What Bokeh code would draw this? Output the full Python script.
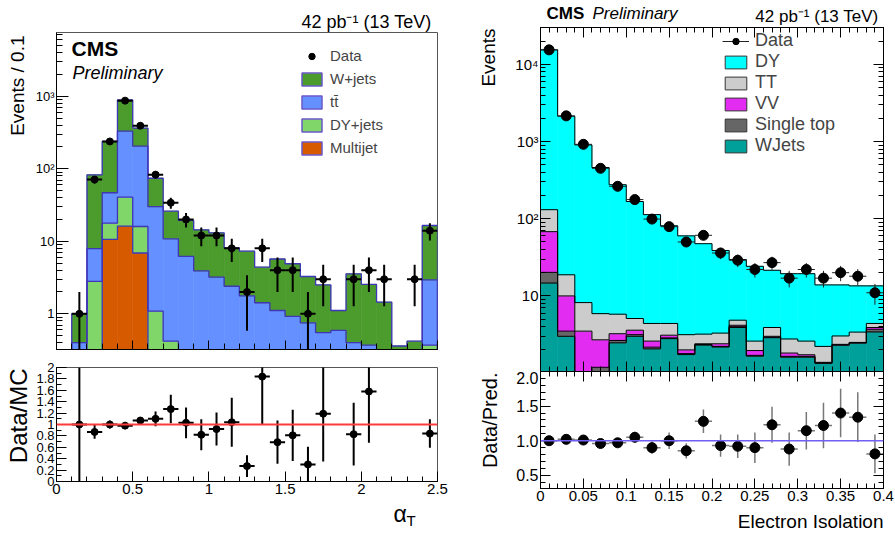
import math
import numpy as np
from bokeh.plotting import figure
from bokeh.layouts import row, column
from bokeh.models import FixedTicker, LinearAxis, LogAxis, Label, Legend, LegendItem, Span
from bokeh.embed import file_html
from bokeh.resources import INLINE

FONT = "Liberation Sans"
NAN = float("nan")

# ---------------- left panel: alpha_T ----------------
at_edges = [0.1, 0.2, 0.3, 0.4, 0.5, 0.6, 0.7, 0.8, 0.9, 1.0, 1.1, 1.2, 1.3,
            1.4, 1.5, 1.6, 1.7, 1.8, 1.9, 2.0, 2.1, 2.2, 2.3, 2.4, 2.5]
at_multijet = [0, 0, 10.6, 16.2, 6.9, 0, 0, 0, 0, 0, 0, 0, 0, 0, 0, 0, 0, 0, 0, 0, 0, 0, 0, 0]
at_dyjets = [0, 2.8, 7.2, 24.4, 9.1, 1.09, 0.42, 0, 0, 0, 0, 0, 0, 0, 0, 0, 0, 0, 0, 0, 0, 0, 0, 0.37]
at_ttbar = [0.4, 5.1, 28.9, 289, 189, 28.9, 10.4, 6.2, 3.9, 3.2, 2.4, 1.77, 1.42, 1.11,
            0.92, 0.75, 0.55, 0.59, 0.40, 0.37, 0.2, 0.1, 0.1, 2.57]
at_wjets = [0.6, 74.7, 191, 560, 159, 44, 15.2, 13.2, 10.5, 9.9, 5.7, 5.53, 2.98, 4.59,
            3.98, 2.52, 1.95, 0.52, 3.16, 2.17, 1.25, 0.26, 0.32, 13.56]
at_data = [1, 71, 238, 870, 392, 83, 34, 20, 12, 12, 8, 2, 8, 4, 4, 1, 3, 0, 3, 4, 3, 0, 3, 14]
at_ratio = [1.0, 0.87, 1.0, 0.98, 1.07, 1.1, 1.27, 1.03, 0.82, 0.92, 1.04, 0.27, 1.84, 0.69,
            0.81, 0.3, 1.19, NAN, 0.83, 1.58, NAN, NAN, NAN, 0.84]
at_ratio_err = [1.0, 0.12, 0.07, 0.035, 0.05, 0.13, 0.25, 0.27, 0.27, 0.29, 0.43, 0.19, 0.83, 0.38,
                0.45, 0.31, 0.84, NAN, 0.55, 0.9, NAN, NAN, NAN, 0.25]
at_labels = ["Data", "W+jets", "tt\u0304", "DY+jets", "Multijet"]
at_xticks = [0, 0.5, 1, 1.5, 2, 2.5]
at_rticks = [0, 0.2, 0.4, 0.6, 0.8, 1, 1.2, 1.4, 1.6, 1.8, 2]

# ---------------- right panel: electron isolation ----------------
iso_edges = [0.0, 0.02, 0.04, 0.06, 0.08, 0.1, 0.12, 0.14, 0.16, 0.18, 0.2, 0.22, 0.24,
             0.26, 0.28, 0.3, 0.32, 0.34, 0.36, 0.38, 0.4]
iso_wjets = [14.7, 3.0, 0.6, 0.95, 2.47, 3.0, 2.06, 2.8, 1.74, 2.31, 2.18, 3.9, 1.66, 2.88,
             1.61, 1.61, 1.34, 2.3, 2.45, 3.42]
iso_singletop = [5.5, 0.5, 0.2, 0.24, 0.18, 0.15, 0.11, 0.06, 0.05, 0.04, 0.04, 0.1, 0.04,
                 0.04, 0.04, 0.04, 0.02, 0.03, 0.03, 0.28]
iso_vv = [47.8, 6.5, 2.7, 1.51, 0.59, 0.45, 0.43, 0.24, 0.21, 0.05, 0.18, 0.17, 0.26, 0.08,
          0.17, 0.08, 0.02, 0.03, 0.02, 0.2]
iso_tt = [63, 8.8, 4.7, 3.2, 2.56, 1.5, 1.8, 1.3, 1.15, 0.8, 0.9, 0.68, 0.64, 0.9, 0.95,
          0.87, 0.84, 0.67, 0.9, 0.5]
iso_dy = [15269, 2111, 896, 455, 270, 162, 108.6, 76.6, 56.85, 44.3, 35.5, 24.75, 21.6,
          17.6, 16.63, 16.8, 11.68, 10.87, 10.1, 9.1]
iso_data = [15400, 2150, 920, 450, 263, 177, 99, 79, 50, 61, 36, 29, 22, 27, 17, 22, 17, 20, 18, 11]
iso_ratio = [1.0, 1.02, 1.01, 0.96, 0.97, 1.05, 0.9, 1.0, 0.855, 1.28, 0.93, 0.92, 0.9, 1.23,
             0.88, 1.145, 1.22, 1.4, 1.34, 0.81]
iso_ratio_err = [0.01, 0.025, 0.035, 0.05, 0.06, 0.08, 0.09, 0.12, 0.11, 0.17, 0.16, 0.17,
                 0.22, 0.26, 0.24, 0.27, 0.33, 0.35, 0.36, 0.28]
iso_labels = ["Data", "DY", "TT", "VV", "Single top", "WJets"]
iso_xticks = [0, 0.05, 0.1, 0.15, 0.2, 0.25, 0.3, 0.35, 0.4]
iso_rticks = [0.5, 1.0, 1.5, 2.0]

AT_COLORS = ["#d65a00", "#80d668", "#6590ff", "#4b9b2d"]              # multijet, dy, tt, w (bottom->top)
ISO_COLORS = ["#00a09a", "#666666", "#e22cf2", "#cccccc", "#00ffff"]  # wjets, st, vv, tt, dy

FLOOR = 1e-4


def new_fig(fw, fh, bl, br, bt, bb, xr, yr, log=False):
    p = figure(frame_width=fw, frame_height=fh, min_border_left=bl, min_border_right=br,
               min_border_top=bt, min_border_bottom=bb, x_range=xr, y_range=yr,
               y_axis_type="log" if log else "linear", output_backend="svg",
               toolbar_location=None)
    p.grid.visible = False
    p.outline_line_color = "black"
    p.outline_line_width = 1
    p.background_fill_color = "white"
    p.border_fill_color = "white"
    return p


def strip(w, h, x0=0, x1=None):
    # text-only canvas; x range given in page pixels of the frame it sits above/below
    if x1 is None:
        x1 = w
    s = figure(width=w, height=h, x_range=(x0, x1), y_range=(0, h), x_axis_location=None,
               y_axis_location=None, min_border=0, min_border_left=0, min_border_right=0,
               min_border_top=0, min_border_bottom=0, output_backend="svg", toolbar_location=None)
    s.outline_line_color = None
    s.grid.visible = False
    s.background_fill_color = "white"
    s.border_fill_color = "white"
    return s


def stext(s, h, x, yc, text, size, style="normal", align="left", angle=0.0):
    s.add_layout(Label(x=x, y=h - yc, text=text, text_font=FONT, text_font_size=f"{size}px",
                       text_font_style=style, text_align=align, text_baseline="middle",
                       angle=angle, text_color="black"))


def style_axis(ax, size, major_in, minor_in, standoff=2, hidden=False):
    ax.major_tick_in = major_in
    ax.major_tick_out = 0
    ax.minor_tick_in = minor_in
    ax.minor_tick_out = 0
    ax.major_label_text_font = FONT
    ax.major_label_text_color = "black"
    ax.axis_line_color = "black"
    ax.major_tick_line_color = "black"
    ax.minor_tick_line_color = "black"
    if hidden:
        ax.major_label_text_font_size = "1px"
        ax.major_label_text_alpha = 0
        ax.major_label_standoff = 0
    else:
        ax.major_label_text_font_size = size
        ax.major_label_standoff = standoff


def draw_stack(p, edges, comps, colors, line_color, line_width):
    e = np.array(edges, dtype=float)
    cum = np.cumsum(np.array(comps, dtype=float), axis=0)
    prev = np.full(len(e) - 1, FLOOR)
    for c, col in zip(cum, colors):
        top = np.maximum(c, FLOOR)
        p.quad(left=e[:-1], right=e[1:], bottom=prev, top=top, fill_color=col,
               line_color=col, line_width=0.6)
        prev = top
    for c in cum:
        top = np.maximum(c, FLOOR)
        xs = np.concatenate([[e[0]], np.repeat(e, 2)[1:-1], [e[-1]]])
        ys = np.concatenate([[FLOOR], np.repeat(top, 2), [FLOOR]])
        p.line(xs, ys, line_color=line_color, line_width=line_width)
    return cum


def legend_proxies(p, edges, cum, colors, outline, width):
    # invisible copies of the stacked bars, used only to draw outlined legend boxes
    e = np.array(edges, dtype=float)
    out = []
    for c, col in zip(cum, colors):
        top = np.maximum(c, FLOOR)
        out.append(p.quad(left=e[:-1], right=e[1:], bottom=np.full(len(top), FLOOR), top=top,
                          fill_color=col, line_color=outline, line_width=width, visible=False))
    return out


def draw_points(p, edges, vals, errs, size, bar_color, bar_width, dot_color="black", floor=None):
    e = np.array(edges, dtype=float)
    v = np.array(vals, dtype=float)
    er = np.array(errs, dtype=float)
    lo, hi = e[:-1], e[1:]
    c = 0.5 * (lo + hi)
    m = np.isfinite(v) & (v > 0)
    ylo = v[m] - er[m]
    if floor is not None:
        ylo = np.maximum(ylo, floor)
    hbar = p.segment(x0=lo[m], y0=v[m], x1=hi[m], y1=v[m], line_color=bar_color, line_width=bar_width)
    p.segment(x0=c[m], y0=ylo, x1=c[m], y1=v[m] + er[m], line_color=bar_color, line_width=bar_width)
    dots = p.scatter(x=c[m], y=v[m], size=size, marker="circle", fill_color=dot_color, line_color=dot_color)
    return dots, hbar


def ftext(p, fl, fb, px, pyc, text, size, style="normal", align="left"):
    p.add_layout(Label(x=px - fl, y=fb - pyc, x_units="screen", y_units="screen", text=text,
                       text_font=FONT, text_font_size=f"{size}px", text_font_style=style,
                       text_align=align, text_baseline="middle", text_color="black"))


def log_minors(decades):
    return [m * 10.0 ** d for d in decades for m in range(2, 10)]


ROT = math.pi / 2
H = 532
LF0, LF1 = 55, 436      # left frames, page x
RF0, RF1 = 539, 882     # right frames, page x

# ================= LEFT SIDE =================
stripL = strip(32, H)
stext(stripL, H, 17, 35, "Events / 0.1", 19, align="right", angle=ROT)
stext(stripL, H, 18, 368, "Data/MC", 24, align="right", angle=ROT)

topL = strip(424, 32, LF0, LF1)
stext(topL, 32, 431, 21, "42 pb\u207b\u00b9 (13 TeV)", 18, align="right")

p1 = new_fig(381, 317, 23, 20, 0, 10, (0, 2.5), (0.322, 7570), log=True)
cum1 = draw_stack(p1, at_edges, [at_multijet, at_dyjets, at_ttbar, at_wjets], AT_COLORS, "#3f36b8", 1.3)
at_err = np.sqrt(np.array(at_data, dtype=float))
d1, _ = draw_points(p1, at_edges, at_data, at_err, 7, "black", 2, floor=FLOOR)
p1.yaxis.ticker = FixedTicker(ticks=[1, 10, 100, 1000], minor_ticks=log_minors(range(-1, 4)))
p1.yaxis.major_label_overrides = {1: "1", 10: "10", 100: "10\u00b2", 1000: "10\u00b3"}
style_axis(p1.yaxis[0], "13px", 12, 6)
p1.xaxis.ticker = FixedTicker(ticks=at_xticks, minor_ticks=[0.1 * i for i in range(26)])
style_axis(p1.xaxis[0], "13px", 9, 6, hidden=True)
p1.outline_line_color = "#555555"
prox1 = legend_proxies(p1, at_edges, cum1, AT_COLORS, "#6a58c8", 1.5)
leg1 = Legend(items=[LegendItem(label=at_labels[0], renderers=[d1])] +
              [LegendItem(label=l, renderers=[r]) for l, r in zip(at_labels[1:], prox1[::-1])],
              location=(243, 193), glyph_width=25, glyph_height=16, label_height=16,
              spacing=6, padding=0, margin=0, label_standoff=6,
              label_text_font=FONT, label_text_font_size="15px",
              background_fill_alpha=0, border_line_alpha=0)
p1.add_layout(leg1)
ftext(p1, 55, 349, 70, 47.5, "CMS", 21, style="bold")
ftext(p1, 55, 349, 71, 72, "Preliminary", 18, style="italic")

p2 = new_fig(381, 114, 23, 20, 8, 19, (0, 2.5), (0, 2))
p2.add_layout(Span(location=1, dimension="width", line_color="#ff3a3a", line_width=2))
draw_points(p2, at_edges, at_ratio, at_ratio_err, 7, "black", 2)
p2.yaxis.ticker = FixedTicker(ticks=at_rticks, minor_ticks=[0.1 * i for i in range(21)])
p2.yaxis.major_label_overrides = {t: f"{t:g}" for t in at_rticks}
style_axis(p2.yaxis[0], "13px", 10, 5)
p2.xaxis.ticker = FixedTicker(ticks=at_xticks, minor_ticks=[0.1 * i for i in range(26)])
p2.xaxis.major_label_overrides = {t: f"{t:g}" for t in at_xticks}
style_axis(p2.xaxis[0], "15px", 10, 5)
p2.outline_line_color = "#555555"

botL = strip(424, 32, LF0, LF1)
stext(botL, 32, 393, 13.5, "\u03b1", 23)
stext(botL, 32, 406, 20, "T", 15)

colL = column(topL, p1, p2, botL)

# ================= RIGHT SIDE =================
stripR = strip(52, H)
stext(stripR, H, 31, 28, "Events", 19, align="right", angle=ROT)
stext(stripR, H, 32, 372, "Data/Pred.", 20, align="right", angle=ROT)

topR = strip(386, 27, RF0, RF1)
stext(topR, 27, 545, 13, "CMS", 17, style="bold")
stext(topR, 27, 591, 13, "Preliminary", 17, style="italic")
stext(topR, 27, 877, 16, "42 pb\u207b\u00b9 (13 TeV)", 17, align="right")

p3 = new_fig(343, 344, 31, 12, 0, 0, (0, 0.4), (1.05, 30000), log=True)
cum3 = draw_stack(p3, iso_edges, [iso_wjets, iso_singletop, iso_vv, iso_tt, iso_dy], ISO_COLORS, "black", 1)
iso_err = np.sqrt(np.array(iso_data, dtype=float))
d3, h3 = draw_points(p3, iso_edges, iso_data, iso_err, 10, "#222222", 1)
ylog_ticker = FixedTicker(ticks=[10, 100, 1000, 10000], minor_ticks=log_minors(range(0, 5)))
p3.yaxis.ticker = ylog_ticker
p3.yaxis.major_label_overrides = {10: "10", 100: "10\u00b2", 1000: "10\u00b3", 10000: "10\u2074"}
style_axis(p3.yaxis[0], "15px", 10, 5)
x_iso_ticker = FixedTicker(ticks=iso_xticks, minor_ticks=[0.01 * i for i in range(41)])
p3.xaxis.ticker = x_iso_ticker
style_axis(p3.xaxis[0], "15px", 10, 5, hidden=True)
ax_r3 = LogAxis(ticker=ylog_ticker)
style_axis(ax_r3, "15px", 10, 5, hidden=True)
p3.add_layout(ax_r3, "right")
ax_t3 = LinearAxis(ticker=x_iso_ticker)
style_axis(ax_t3, "15px", 10, 5, hidden=True)
p3.add_layout(ax_t3, "above")
prox3 = legend_proxies(p3, iso_edges, cum3, ISO_COLORS, "#333333", 1)
leg3 = Legend(items=[LegendItem(label=iso_labels[0], renderers=[h3, d3])] +
              [LegendItem(label=l, renderers=[r]) for l, r in zip(iso_labels[1:], prox3[::-1])],
              location=(182, 215), glyph_width=27, glyph_height=16, label_height=16,
              spacing=0, padding=0, margin=0, label_standoff=6,
              label_text_font=FONT, label_text_font_size="18px",
              background_fill_alpha=0, border_line_alpha=0)
p3.add_layout(leg3)

p4 = new_fig(343, 117, 31, 12, 0, 21, (0, 0.4), (0.31, 2.0))
p4.add_layout(Span(location=1, dimension="width", line_color="#6f5ff2", line_width=1.5))
draw_points(p4, iso_edges, iso_ratio, iso_ratio_err, 10, "#777777", 1.5)
yr_ticker = FixedTicker(ticks=iso_rticks, minor_ticks=[0.1 * i for i in range(3, 21)])
p4.yaxis.ticker = yr_ticker
p4.yaxis.major_label_overrides = {t: f"{t:.1f}" for t in iso_rticks}
style_axis(p4.yaxis[0], "16px", 10, 5)
p4.xaxis.ticker = x_iso_ticker
p4.xaxis.major_label_overrides = {t: f"{t:g}" for t in iso_xticks}
style_axis(p4.xaxis[0], "15px", 10, 5)
ax_r4 = LinearAxis(ticker=yr_ticker)
style_axis(ax_r4, "15px", 10, 5, hidden=True)
p4.add_layout(ax_r4, "right")
ax_t4 = LinearAxis(ticker=x_iso_ticker)
style_axis(ax_t4, "15px", 10, 5, hidden=True)
p4.add_layout(ax_t4, "above")

botR = strip(386, 23, RF0, RF1)
stext(botR, 23, 882, 11.5, "Electron Isolation", 19, align="right")

colR = column(topR, p3, p4, botR)

layout = row(stripL, colL, stripR, colR)
open("out.html", "w").write(file_html(layout, INLINE))
